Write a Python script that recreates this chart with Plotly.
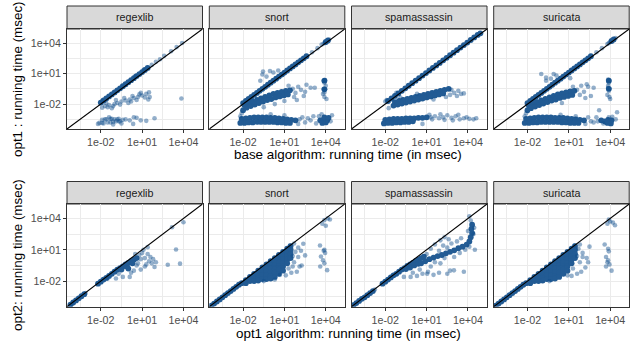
import plotly.graph_objects as go

# ---------------- data (log10 of running time in msec) -------------
CATEGORIES = ["regexlib", "snort", "spamassassin", "suricata"]
TICK_VALUES = [1e-2, 1e1, 1e4]
TICK_LABELS = ["1e-02", "1e+01", "1e+04"]
MINOR_VALUES = [3.162e-4, 0.3162, 316.2]
AXIS_RANGE_LOG = [-4.45, 5.38]

# top row: x = base algorithm, y = opt1   (pairs are [log10 x, log10 y])
regexlib_opt1_dense = [
    [-2.0, -1.85], [-1.8, -1.65], [-1.6, -1.45], [-1.4, -1.25], [-1.2, -1.05], [-1.0, -0.85],
    [-0.8, -0.65], [-0.6, -0.45], [-0.4, -0.25], [-0.2, -0.05], [0.0, 0.15], [0.2, 0.35],
    [0.4, 0.55], [0.6, 0.75], [0.8, 0.95], [1.0, 1.15], [1.2, 1.35], [1.4, 1.55],
]
regexlib_opt1_sparse = [
    [1.7, 1.85], [2.0, 2.15], [2.3, 2.4], [2.6, 2.75], [3.1, 3.2], [3.5, 3.6], [3.9, 4.0],
    [-1.9, -1.7], [0.5, 0.75], [1.1, 1.35],
    [-1.7, -2.2], [-1.4, -2.1], [-1.1, -2.2], [-1.0, -2.0], [-0.8, -1.9], [-0.5, -1.75],
    [-0.2, -1.65], [0.1, -1.55], [0.4, -1.4], [0.7, -1.3], [1.0, -1.15], [1.3, -1.0],
    [-1.6, -1.9], [-1.2, -2.4], [-0.9, -1.6], [-0.6, -2.05], [-0.3, -1.4], [0.0, -1.9],
    [0.3, -1.2], [0.6, -1.6], [0.9, -0.9], [1.2, -1.35], [1.5, -0.85], [1.55, -1.3],
    [1.45, -1.55], [-1.9, -2.35], [0.2, -1.75], [3.85, -1.45], [-1.5, -2.3], [0.8, -1.05],
    [-2.1, -3.85], [-1.8, -3.9], [-1.5, -3.8], [-1.3, -3.8], [-1.1, -3.75], [-0.9, -3.7],
    [-0.7, -3.7], [-0.6, -3.7], [-1.9, -3.55], [-1.7, -3.5], [-1.6, -3.5], [-1.3, -3.45],
    [-1.2, -3.45], [-1.0, -3.5], [-0.8, -3.5], [-0.7, -3.45], [-0.4, -3.55], [-1.9, -3.85],
    [-2.2, -3.95], [-0.2, -3.5], [0.1, -3.6], [0.4, -3.3], [0.6, -3.35], [0.9, -3.6],
    [1.3, -3.65], [1.9, -3.4], [0.35, -3.95], [-1.4, -3.3], [-0.5, -3.9], [-1.1, -4.0],
]

snort_opt1_dense = [
    [-2.0, -1.9], [-1.8, -1.7], [-1.6, -1.5], [-1.4, -1.3], [-1.2, -1.1], [-1.0, -0.9],
    [-0.8, -0.7], [-0.6, -0.5], [-0.4, -0.3], [-0.2, -0.1], [0.0, 0.1], [0.2, 0.3],
    [0.4, 0.5], [0.6, 0.7], [0.8, 0.9], [1.0, 1.1], [1.2, 1.3], [1.4, 1.5], [1.6, 1.7],
    [1.8, 1.9], [2.0, 2.1], [2.2, 2.3], [2.4, 2.5], [2.6, 2.7], [4.0, 4.1], [4.15, 4.25],
    [-1.9, -2.1], [-1.6, -1.9], [-1.3, -1.75], [-1.0, -1.6], [-0.7, -1.45], [-0.4, -1.3],
    [-0.1, -1.15], [0.2, -1.0], [0.5, -0.9], [0.8, -0.8], [1.1, -0.7], [1.4, -0.65],
    [-2.0, -2.6], [-1.75, -2.35], [-1.45, -2.2], [-1.15, -2.05], [-0.85, -1.9], [-0.55, -1.75],
    [-0.25, -1.6], [0.05, -1.5], [0.35, -1.35], [0.65, -1.25], [0.95, -1.15], [1.25, -1.05],
    [3.9, 0.3], [3.9, -0.55],
    [-2.1, -3.45], [-1.8, -3.4], [-1.5, -3.35], [-1.2, -3.3], [-0.9, -3.3], [-0.6, -3.3],
    [-0.3, -3.3], [0.0, -3.35], [0.3, -3.35], [0.6, -3.4], [0.9, -3.45], [1.2, -3.5],
    [1.5, -3.55], [1.8, -3.6],
    [-2.2, -3.85], [-1.9, -3.85], [-1.6, -3.8], [-1.3, -3.8], [-1.0, -3.75], [-0.7, -3.75],
    [-0.4, -3.75], [-0.1, -3.75], [0.2, -3.75], [0.5, -3.8], [0.8, -3.8], [1.1, -3.85], [1.4, -3.85],
    [3.6, -3.6], [3.85, -3.5], [4.1, -3.6], [3.75, -3.85], [4.0, -3.8], [3.9, -3.3], [4.2, -3.35],
]
snort_opt1_sparse = [
    [3.0, 3.1], [3.4, 3.5], [3.7, 3.85], [3.85, 3.95], [4.25, 4.35], [3.95, 4.0],
    [-0.75, 0.3], [-0.55, 1.2], [-0.6, 0.9], [-0.05, 1.25], [0.2, 1.1], [0.55, 1.3],
    [-0.3, 0.7], [0.9, 0.9], [0.4, 0.5],
    [1.6, -0.5], [1.8, -0.9], [2.0, -0.3], [2.2, -0.6], [2.4, -1.2], [2.6, -0.1], [1.7, -1.3],
    [2.9, -0.4], [2.5, -0.8], [1.9, -1.6], [-2.1, -2.9], [0.3, -2.0], [-0.5, -2.3], [1.0, -1.7],
    [1.3, -0.2], [3.2, -0.4],
    [3.85, 0.3], [3.95, 0.35], [3.9, 0.1], [3.85, -0.5], [3.95, -0.55], [4.0, -0.2],
    [3.8, -1.0], [3.9, -1.3], [4.05, -1.5], [3.9, -0.85],
    [2.1, -3.5], [2.3, -3.3], [2.5, -3.8], [2.7, -3.4], [2.9, -3.6], [3.1, -3.2], [3.3, -3.9],
    [-2.2, -3.2], [0.0, -3.0], [1.0, -3.1], [2.0, -3.95],
    [3.5, -3.2], [4.45, -3.1], [4.35, -3.7], [3.7, -3.0],
]

spamassassin_opt1_dense = [
    [-1.8, -1.7], [-1.55, -1.45], [-1.3, -1.2], [-1.05, -0.95], [-0.8, -0.7], [-0.55, -0.45],
    [-0.3, -0.2], [-0.05, 0.05], [0.2, 0.3], [0.45, 0.55], [0.7, 0.8], [0.95, 1.05],
    [1.2, 1.3], [1.45, 1.55], [1.7, 1.8], [1.95, 2.05], [2.2, 2.3], [2.45, 2.55],
    [2.7, 2.8], [2.95, 3.05], [3.2, 3.3], [3.45, 3.55], [3.7, 3.8], [3.95, 4.05],
    [4.2, 4.3], [4.45, 4.55], [4.7, 4.8], [4.9, 4.95],
    [-1.3, -1.8], [-1.0, -1.7], [-0.7, -1.6], [-0.4, -1.5], [-0.1, -1.4], [0.2, -1.3],
    [0.5, -1.2], [0.8, -1.1], [1.1, -1.0], [1.4, -0.9], [1.7, -0.8], [2.0, -0.7],
    [2.3, -0.6], [2.6, -0.5],
    [-1.4, -2.15], [-1.1, -2.05], [-0.8, -1.95], [-0.5, -1.85], [-0.2, -1.75], [0.1, -1.65],
    [0.4, -1.55], [0.7, -1.45], [1.0, -1.35], [1.3, -1.25], [1.6, -1.15], [1.9, -1.05], [2.2, -0.95],
    [-2.0, -3.55], [-1.7, -3.5], [-1.4, -3.45], [-1.1, -3.45], [-0.8, -3.45], [-0.5, -3.4],
    [-0.2, -3.4], [0.1, -3.4], [0.4, -3.35], [0.7, -3.35], [1.0, -3.3],
    [-2.1, -3.9], [-1.8, -3.85], [-1.5, -3.85], [-1.2, -3.8], [-0.9, -3.8], [-0.6, -3.75],
    [-0.3, -3.75], [0.0, -3.7],
]
spamassassin_opt1_sparse = [
    [-1.9, -1.6], [-1.2, -0.9], [-2.0, -1.75],
    [-1.75, -2.4], [2.8, -0.6], [3.0, -0.9], [3.3, -0.7], [3.5, -1.0], [3.7, -0.95],
    [2.7, -1.1], [2.4, -1.3], [1.5, -1.55], [-0.9, -1.35], [0.3, -1.0], [3.2, -1.2],
    [1.3, -3.3], [1.6, -3.2], [1.9, -3.4], [2.2, -3.3], [2.5, -3.1], [2.8, -3.35],
    [3.1, -3.2], [3.4, -3.5], [3.7, -3.4], [4.1, -3.45], [4.4, -3.5], [4.6, -3.4],
    [0.7, -3.95], [1.4, -3.5], [2.0, -3.0], [2.9, -3.6], [3.9, -3.3], [1.2, -3.05],
    [2.3, -3.55], [3.3, -3.05],
]

suricata_opt1_dense = [
    [-2.0, -1.9], [-1.8, -1.7], [-1.6, -1.5], [-1.4, -1.3], [-1.2, -1.1], [-1.0, -0.9],
    [-0.8, -0.7], [-0.6, -0.5], [-0.4, -0.3], [-0.2, -0.1], [0.0, 0.1], [0.2, 0.3],
    [0.4, 0.5], [0.6, 0.7], [0.8, 0.9], [1.0, 1.1], [1.2, 1.3], [1.4, 1.5], [1.6, 1.7],
    [1.8, 1.9], [2.0, 2.1], [2.2, 2.3], [2.4, 2.5], [2.6, 2.7], [4.1, 4.2], [4.25, 4.35],
    [-1.9, -2.15], [-1.6, -1.95], [-1.3, -1.8], [-1.0, -1.65], [-0.7, -1.5], [-0.4, -1.35],
    [-0.1, -1.2], [0.2, -1.05], [0.5, -0.95], [0.8, -0.85], [1.1, -0.75], [1.4, -0.7],
    [-2.0, -2.6], [-1.75, -2.4], [-1.45, -2.25], [-1.15, -2.1], [-0.85, -1.95], [-0.55, -1.8],
    [-0.25, -1.65], [0.05, -1.55], [0.35, -1.4], [0.65, -1.3], [0.95, -1.2], [1.25, -1.1],
    [3.9, 0.3], [3.9, -0.5],
    [-2.1, -3.45], [-1.8, -3.4], [-1.5, -3.35], [-1.2, -3.3], [-0.9, -3.3], [-0.6, -3.3],
    [-0.3, -3.3], [0.0, -3.35], [0.3, -3.35], [0.6, -3.35], [0.9, -3.4], [1.2, -3.45],
    [1.5, -3.5], [1.8, -3.55], [2.1, -3.6],
    [-2.2, -3.85], [-1.9, -3.85], [-1.6, -3.8], [-1.3, -3.8], [-1.0, -3.75], [-0.7, -3.75],
    [-0.4, -3.75], [-0.1, -3.75], [0.2, -3.75], [0.5, -3.8], [0.8, -3.8], [1.1, -3.85],
    [1.4, -3.85], [1.7, -3.85],
    [3.35, -3.6], [3.6, -3.7], [3.85, -3.55], [4.1, -3.6], [3.8, -3.85], [4.05, -3.9],
]
suricata_opt1_sparse = [
    [3.0, 3.1], [3.4, 3.5], [3.8, 3.9], [4.0, 4.1], [4.4, 4.5], [3.9, 4.0],
    [-1.0, 0.95], [-0.65, 0.6], [-0.65, 0.3], [-0.1, 0.95], [1.1, 0.55], [0.1, 0.8], [-0.3, 0.5],
    [1.6, -0.6], [1.9, -0.2], [2.1, -0.8], [2.4, -0.3], [2.6, -1.2], [2.2, -1.4], [1.8, -1.1],
    [2.8, -0.4], [3.2, -2.6], [-2.1, -2.9], [0.5, -1.9], [1.3, -0.3], [2.3, -0.05],
    [3.85, 0.4], [3.95, 0.3], [3.9, 0.1], [3.85, -0.4], [3.95, -0.5], [3.9, -0.7],
    [3.8, -1.1], [3.95, -1.3], [4.0, -1.5], [3.85, -0.2],
    [2.4, -3.3], [2.6, -3.7], [2.2, -3.95], [-2.2, -3.2], [0.4, -3.05], [1.5, -3.2],
    [3.1, -3.7], [3.5, -3.9], [3.9, -3.3], [4.15, -3.25], [4.5, -2.8], [4.4, -3.5],
    [3.0, -3.3], [2.8, -3.8],
]

# bottom row: x = opt1, y = opt2
regexlib_opt2_dense = [
    [-4.2, -4.25], [-4.0, -4.05], [-3.8, -3.85], [-3.6, -3.65], [-3.4, -3.45], [-3.2, -3.25],
    [-2.2, -2.25], [-2.0, -2.05], [-1.8, -1.85], [-1.6, -1.7], [-1.4, -1.5], [-1.2, -1.3],
    [-1.0, -1.1], [-0.8, -0.9], [-0.6, -0.75], [-0.4, -0.6], [-0.2, -0.4], [0.0, -0.25],
    [0.2, -0.1], [0.4, 0.05], [0.6, 0.2], [-0.5, -0.9], [-0.1, -0.6], [0.3, -0.3], [0.0, -0.8],
]
regexlib_opt2_sparse = [
    [-3.1, -3.15], [-4.1, -4.2],
    [-1.5, -1.75], [-0.9, -1.75], [-0.4, -1.6], [0.1, -1.6], [0.4, -1.0], [0.7, -0.3],
    [0.8, 0.5], [1.0, 0.7], [1.2, 0.2], [1.4, 1.25], [1.3, -0.4], [1.5, -0.1], [1.7, -0.3],
    [1.9, -0.65], [1.6, 0.3], [1.2, -0.6], [0.9, -0.9], [2.0, -0.2], [1.8, 0.1],
    [2.86, -0.43], [3.46, 1.03], [3.75, -0.33], [3.17, 3.16], [4.0, 3.63], [0.5, 0.6], [1.1, 1.0],
    [0.6, -0.5], [0.9, 0.1], [1.4, 0.6], [0.2, -1.2], [-0.7, -1.3],
]

snort_opt2_dense = [
    [-4.3, -4.35], [-4.1, -4.15], [-3.9, -3.95], [-3.7, -3.75], [-3.5, -3.55], [-3.3, -3.35],
    [-3.1, -3.15], [-2.9, -2.95], [-2.7, -2.75], [-2.5, -2.55], [-2.3, -2.35],
    [-2.1, -2.2], [-1.8, -1.9], [-1.8, -2.2], [-1.5, -1.6], [-1.5, -2.0],
    [-1.2, -1.3], [-1.2, -1.65], [-1.2, -2.0],
    [-0.9, -1.0], [-0.9, -1.35], [-0.9, -1.7], [-0.9, -1.95],
    [-0.6, -0.7], [-0.6, -1.05], [-0.6, -1.4], [-0.6, -1.8],
    [-0.3, -0.4], [-0.3, -0.75], [-0.3, -1.1], [-0.3, -1.45], [-0.3, -1.8],
    [0.0, -0.1], [0.0, -0.45], [0.0, -0.8], [0.0, -1.15], [0.0, -1.5], [0.0, -1.75],
    [0.3, 0.2], [0.3, -0.15], [0.3, -0.5], [0.3, -0.85], [0.3, -1.2], [0.3, -1.6],
    [0.6, 0.5], [0.6, 0.15], [0.6, -0.2], [0.6, -0.55], [0.6, -0.9], [0.6, -1.3],
    [0.9, 0.8], [0.9, 0.45], [0.9, 0.1], [0.9, -0.25], [0.9, -0.6], [0.9, -1.0],
    [1.2, 1.1], [1.2, 0.75], [1.2, 0.4], [1.2, 0.05], [1.2, -0.3],
    [1.45, 1.35], [1.45, 1.0], [1.45, 0.6], [1.45, 0.2],
]
snort_opt2_sparse = [
    [1.4, 1.4], [1.8, 0.8], [2.0, 0.3], [1.7, -0.2], [2.1, -0.6], [2.37, 1.57], [2.5, 0.46],
    [2.25, -0.5], [1.9, -1.1], [1.5, -1.2], [0.68, -1.4], [1.1, -1.45], [-0.5, -2.0],
    [0.3, -1.85], [1.7, 1.6], [2.0, 1.2], [1.6, 0.4], [2.2, 0.9], [1.3, -0.8], [1.6, -0.6],
    [3.58, 1.41], [3.9, 1.0], [3.65, 0.35], [3.8, 0.0], [3.9, -0.3], [3.6, -0.6],
    [4.1, -0.95], [3.95, 0.7], [3.85, 0.9],
    [3.9, 3.85], [4.3, 3.9], [4.0, 3.3], [3.75, 3.5], [4.15, 4.0],
]

spamassassin_opt2_dense = [
    [-4.3, -4.3], [-4.1, -4.1], [-3.9, -3.9], [-3.7, -3.7], [-3.5, -3.55], [-3.3, -3.35],
    [-3.1, -3.15], [-2.9, -2.95],
    [-2.2, -2.25], [-2.0, -2.05], [-1.8, -1.85], [-1.6, -1.65], [-1.4, -1.45], [-1.2, -1.3],
    [-1.0, -1.1], [-0.8, -0.9], [-0.6, -0.75], [-0.4, -0.55], [-0.2, -0.4], [0.0, -0.25],
    [0.2, -0.1], [0.4, 0.05], [0.6, 0.2], [0.8, 0.35], [-0.5, -0.85], [-0.2, -0.7],
    [0.1, -0.5], [0.4, -0.35],
    [0.6, -0.3], [0.9, -0.1], [1.2, 0.1], [1.5, 0.25], [1.8, 0.4], [2.1, 0.5], [2.4, 0.65],
    [2.7, 0.8], [3.0, 0.95], [3.3, 1.15], [3.6, 1.3], [3.9, 1.5], [4.1, 1.8], [4.2, 2.2],
    [4.3, 2.6], [4.25, 3.0], [4.3, 3.4],
]
spamassassin_opt2_sparse = [
    [-2.75, -2.8], [4.2, 3.8],
    [1.0, 0.6], [1.3, 1.1], [1.6, 1.5], [2.0, 1.9], [2.3, 2.2], [2.6, 2.0], [2.8, 1.6],
    [2.2, 1.4], [1.9, 0.9], [2.5, 1.2], [3.2, 1.8], [3.5, 2.1], [3.4, 0.7], [3.0, 0.3],
    [3.8, 1.0], [4.5, 1.0], [4.1, 1.3], [4.4, 2.5], [4.0, 2.8], [4.45, 3.1], [4.1, 4.2],
    [-0.65, -1.6], [-0.16, -1.6], [0.3, -1.5], [0.7, -1.3], [1.04, -1.29], [1.5, -1.4],
    [1.9, -1.2], [2.5, -1.29], [2.98, -0.97], [3.7, -1.1], [2.7, -1.0], [0.0, -1.2],
    [0.5, -0.9], [1.3, -0.6], [2.0, -0.3], [1.1, -1.1], [1.6, -0.2], [2.3, 0.2],
]

suricata_opt2_dense = [
    [-4.3, -4.35], [-4.1, -4.15], [-3.9, -3.95], [-3.7, -3.75], [-3.5, -3.55], [-3.3, -3.35],
    [-3.1, -3.15], [-2.9, -2.95], [-2.7, -2.75], [-2.5, -2.55], [-2.3, -2.35],
    [-2.1, -2.2], [-1.8, -1.9], [-1.8, -2.2], [-1.5, -1.6], [-1.5, -2.0],
    [-1.2, -1.3], [-1.2, -1.65], [-1.2, -2.0],
    [-0.9, -1.0], [-0.9, -1.35], [-0.9, -1.7], [-0.9, -1.95],
    [-0.6, -0.7], [-0.6, -1.05], [-0.6, -1.4], [-0.6, -1.8],
    [-0.3, -0.4], [-0.3, -0.75], [-0.3, -1.1], [-0.3, -1.45], [-0.3, -1.8],
    [0.0, -0.1], [0.0, -0.45], [0.0, -0.8], [0.0, -1.15], [0.0, -1.5], [0.0, -1.75],
    [0.3, 0.2], [0.3, -0.15], [0.3, -0.5], [0.3, -0.85], [0.3, -1.2], [0.3, -1.6],
    [0.6, 0.5], [0.6, 0.15], [0.6, -0.2], [0.6, -0.55], [0.6, -0.9], [0.6, -1.3],
    [0.9, 0.8], [0.9, 0.45], [0.9, 0.1], [0.9, -0.25], [0.9, -0.6], [0.9, -1.0],
    [1.2, 1.1], [1.2, 0.75], [1.2, 0.4], [1.2, 0.05], [1.2, -0.3],
    [1.45, 1.35], [1.45, 1.0], [1.45, 0.6], [1.45, 0.2],
]
suricata_opt2_sparse = [
    [1.4, 1.4], [1.7, 1.1], [2.0, 0.7], [2.3, 0.2], [1.8, -0.2], [2.2, -0.7], [2.5, 1.3],
    [1.9, -1.1], [1.6, -1.3], [0.9, -1.45], [1.2, -1.5], [2.0, 0.3], [2.4, -0.2], [1.6, 0.4],
    [1.8, 1.5], [1.3, -0.8], [-0.4, -2.0],
    [3.6, 1.5], [3.85, 1.1], [3.9, 0.85], [3.7, 0.3], [3.8, -0.2], [3.95, -0.4], [3.7, -0.6],
    [4.1, -1.0], [3.85, 0.0],
    [3.8, 3.5], [4.0, 3.7], [4.2, 3.6], [4.35, 3.35], [3.9, 3.9],
]

TOP_DENSE = [regexlib_opt1_dense, snort_opt1_dense, spamassassin_opt1_dense, suricata_opt1_dense]
TOP_SPARSE = [regexlib_opt1_sparse, snort_opt1_sparse, spamassassin_opt1_sparse, suricata_opt1_sparse]
BOT_DENSE = [regexlib_opt2_dense, snort_opt2_dense, spamassassin_opt2_dense, suricata_opt2_dense]
BOT_SPARSE = [regexlib_opt2_sparse, snort_opt2_sparse, spamassassin_opt2_sparse, suricata_opt2_sparse]

# ---------------- layout ----------------
W, H = 632, 343
FONT = "Liberation Sans, Arial, Helvetica, sans-serif"
BLUE = "#104E8B"
BLUE_ALPHA = "rgba(16,78,139,0.45)"
PANEL_X = [(67, 202.5), (209.3, 344.8), (351.5, 487.0), (493.7, 629.2)]
PANEL_Y = [(29, 129), (204, 306.7)]
STRIP_Y = [(6, 29), (181.5, 204)]

fig = go.Figure()
layout = dict(
    width=W, height=H, margin=dict(l=0, r=0, t=0, b=0), autosize=False,
    paper_bgcolor="white", plot_bgcolor="white", showlegend=False,
    font=dict(family=FONT),
)
shapes, annotations = [], []

def pts(pairs):
    return [10 ** p[0] for p in pairs], [10 ** p[1] for p in pairs]

for i in range(8):
    row, col = divmod(i, 4)
    sfx = "" if i == 0 else str(i + 1)
    x0, x1 = PANEL_X[col]
    y0, y1 = PANEL_Y[row]
    tickfont = dict(family=FONT, size=10.7, color="#4D4D4D")
    common = dict(
        type="log", range=AXIS_RANGE_LOG, showline=True, mirror=True,
        linecolor="#333333", linewidth=1, zeroline=False, automargin=False,
        showgrid=True, gridcolor="#EBEBEB", gridwidth=1.1,
        tickvals=TICK_VALUES, ticktext=TICK_LABELS, tickfont=tickfont,
        minor=dict(tickvals=MINOR_VALUES, showgrid=True, gridcolor="#EBEBEB",
                   gridwidth=0.6, ticks=""),
    )
    layout["xaxis" + sfx] = dict(
        common, domain=[x0 / W, x1 / W], anchor="y" + sfx,
        ticks="outside", ticklen=3, tickwidth=1, tickcolor="#333333",
    )
    ydict = dict(common, domain=[1 - y1 / H, 1 - y0 / H], anchor="x" + sfx)
    if col == 0:
        ydict.update(ticks="outside", ticklen=3, tickwidth=1, tickcolor="#333333")
    else:
        ydict.update(ticks="", showticklabels=False)
    layout["yaxis" + sfx] = ydict

    dense = (TOP_DENSE if row == 0 else BOT_DENSE)[col]
    sparse = (TOP_SPARSE if row == 0 else BOT_SPARSE)[col]
    # sparse points: per-point alpha so overlaps accumulate (like ggplot alpha)
    xs, ys = pts(sparse)
    fig.add_trace(go.Scatter(
        x=xs, y=ys, mode="markers", xaxis="x" + sfx, yaxis="y" + sfx,
        marker=dict(size=4.6, color=BLUE_ALPHA, line=dict(width=0)),
        hoverinfo="skip",
    ))
    # dense cores: trace-level opacity so the solid blobs are uniform
    xs, ys = pts(dense)
    fig.add_trace(go.Scatter(
        x=xs, y=ys, mode="markers", xaxis="x" + sfx, yaxis="y" + sfx,
        opacity=0.92,
        marker=dict(size=5.8, color=BLUE, line=dict(width=0)),
        hoverinfo="skip",
    ))
    lo, hi = 10 ** AXIS_RANGE_LOG[0], 10 ** AXIS_RANGE_LOG[1]
    fig.add_trace(go.Scatter(
        x=[lo, hi], y=[lo, hi], mode="lines", xaxis="x" + sfx, yaxis="y" + sfx,
        line=dict(color="black", width=1.1), hoverinfo="skip",
    ))

    sy0, sy1 = STRIP_Y[row]
    shapes.append(dict(type="rect", xref="paper", yref="paper",
                       x0=x0 / W, x1=x1 / W, y0=1 - sy1 / H, y1=1 - sy0 / H,
                       fillcolor="#D9D9D9", line=dict(color="#333333", width=1), layer="below"))
    annotations.append(dict(text=CATEGORIES[col], xref="paper", yref="paper",
                            x=(x0 + x1) / 2 / W, y=1 - (sy0 + sy1) / 2 / H,
                            xanchor="center", yanchor="middle", showarrow=False,
                            font=dict(family=FONT, size=10.7, color="#1A1A1A")))

TITLE_FONT = dict(family=FONT, size=13.4, color="black")
annotations += [
    dict(text="base algorithm: running time (in msec)", x=348 / W, y=1 - 155 / H),
    dict(text="opt1 algorithm: running time (in msec)", x=348 / W, y=1 - 333 / H),
    dict(text="opt1 : running time (msec)", x=17 / W, y=1 - 79 / H, textangle=-90),
    dict(text="opt2: running time (msec)", x=17 / W, y=1 - 255 / H, textangle=-90),
]
for a in annotations[-4:]:
    a.update(xref="paper", yref="paper", xanchor="center", yanchor="middle",
             showarrow=False, font=TITLE_FONT)

layout["shapes"] = shapes
layout["annotations"] = annotations
fig.update_layout(**layout)
fig.write_html(
    "out.html",
    config={"displayModeBar": False},
    post_script="document.body.style.margin='0';document.body.style.padding='0';",
)
